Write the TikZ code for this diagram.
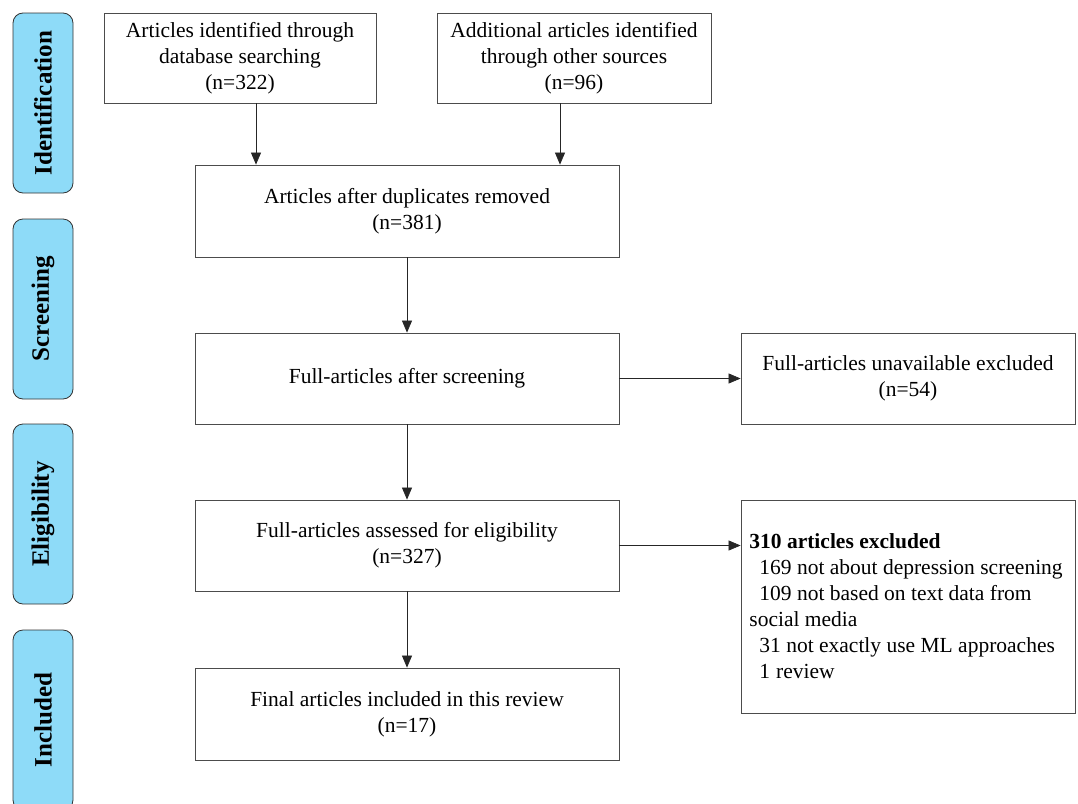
\documentclass[tikz,border=0pt]{standalone}
\usepackage{fontspec}
\setmainfont{Liberation Serif}
\usetikzlibrary{arrows.meta}
\definecolor{stageblue}{RGB}{142,219,248}

\begin{document}
\begin{tikzpicture}
  [x=1pt,y=-1pt,
   box/.style={draw=black!70,line width=0.8pt,inner sep=0pt,align=center,
     font=\fontsize{21.5}{26}\selectfont},
   stage/.style={draw=black!80,line width=0.8pt,fill=stageblue,rounded corners=10pt,
     rotate=90,minimum width=180pt,minimum height=60pt,inner sep=0pt,
     font=\fontsize{25}{28}\selectfont\bfseries},
   arr/.style={-{Triangle[length=12pt,width=10pt]},line width=0.7pt,draw=black!85}]
  \useasboundingbox (0,0) rectangle (1078,803);

  \node [stage] (s1) at (43,103) {Identification};
  \node [stage] (s2) at (43,309) {Screening};
  \node [stage] (s3) at (43,514) {Eligibility};
  \node [stage] (s4) at (43,720) {Included};

  \node [box,minimum width=272pt,minimum height=90pt] (db) at (240,58)
    {Articles identified through\\database searching\\(n=322)};
  \node [box,minimum width=274pt,minimum height=90pt] (other) at (574,58)
    {Additional articles identified\\through other sources\\(n=96)};
  \node [box,minimum width=424pt,minimum height=92pt] (dup) at (407,211)
    {Articles after duplicates removed\\(n=381)};
  \node [box,minimum width=424pt,minimum height=91pt] (scr) at (407,378.5)
    {Full-articles after screening};
  \node [box,minimum width=334pt,minimum height=91pt] (unav) at (908,378.5)
    {Full-articles unavailable excluded\\(n=54)};
  \node [box,minimum width=424pt,minimum height=91pt] (elig) at (407,545.5)
    {Full-articles assessed for eligibility\\(n=327)};
  \node [box,minimum width=334pt,minimum height=213pt] (excl) at (908,606.5) {};
  \node [box,draw=none,align=left,anchor=north west] (excltext) at (749,533)
    {\textbf{310 articles excluded}\\
     \hspace*{10pt}169 not about depression screening\\
     \hspace*{10pt}109 not based on text data from\\
     social media\\
     \hspace*{10pt}31 not exactly use ML approaches\\
     \hspace*{10pt}1\hspace{6pt}review};
  \node [box,minimum width=424pt,minimum height=92pt] (final) at (407,714)
    {Final articles included in this review\\(n=17)};

  \draw [arr] ([xshift=16pt]db.south) -- ([xshift=16pt]db.south |- dup.north);
  \draw [arr] ([xshift=-14pt]other.south) -- ([xshift=-14pt]other.south |- dup.north);
  \foreach \from/\to in {dup/scr,scr/elig,elig/final,scr/unav}
    \draw [arr] (\from) -- (\to);
  \draw [arr] (elig.east) -- (elig.east -| excl.west);

\end{tikzpicture}
\end{document}
